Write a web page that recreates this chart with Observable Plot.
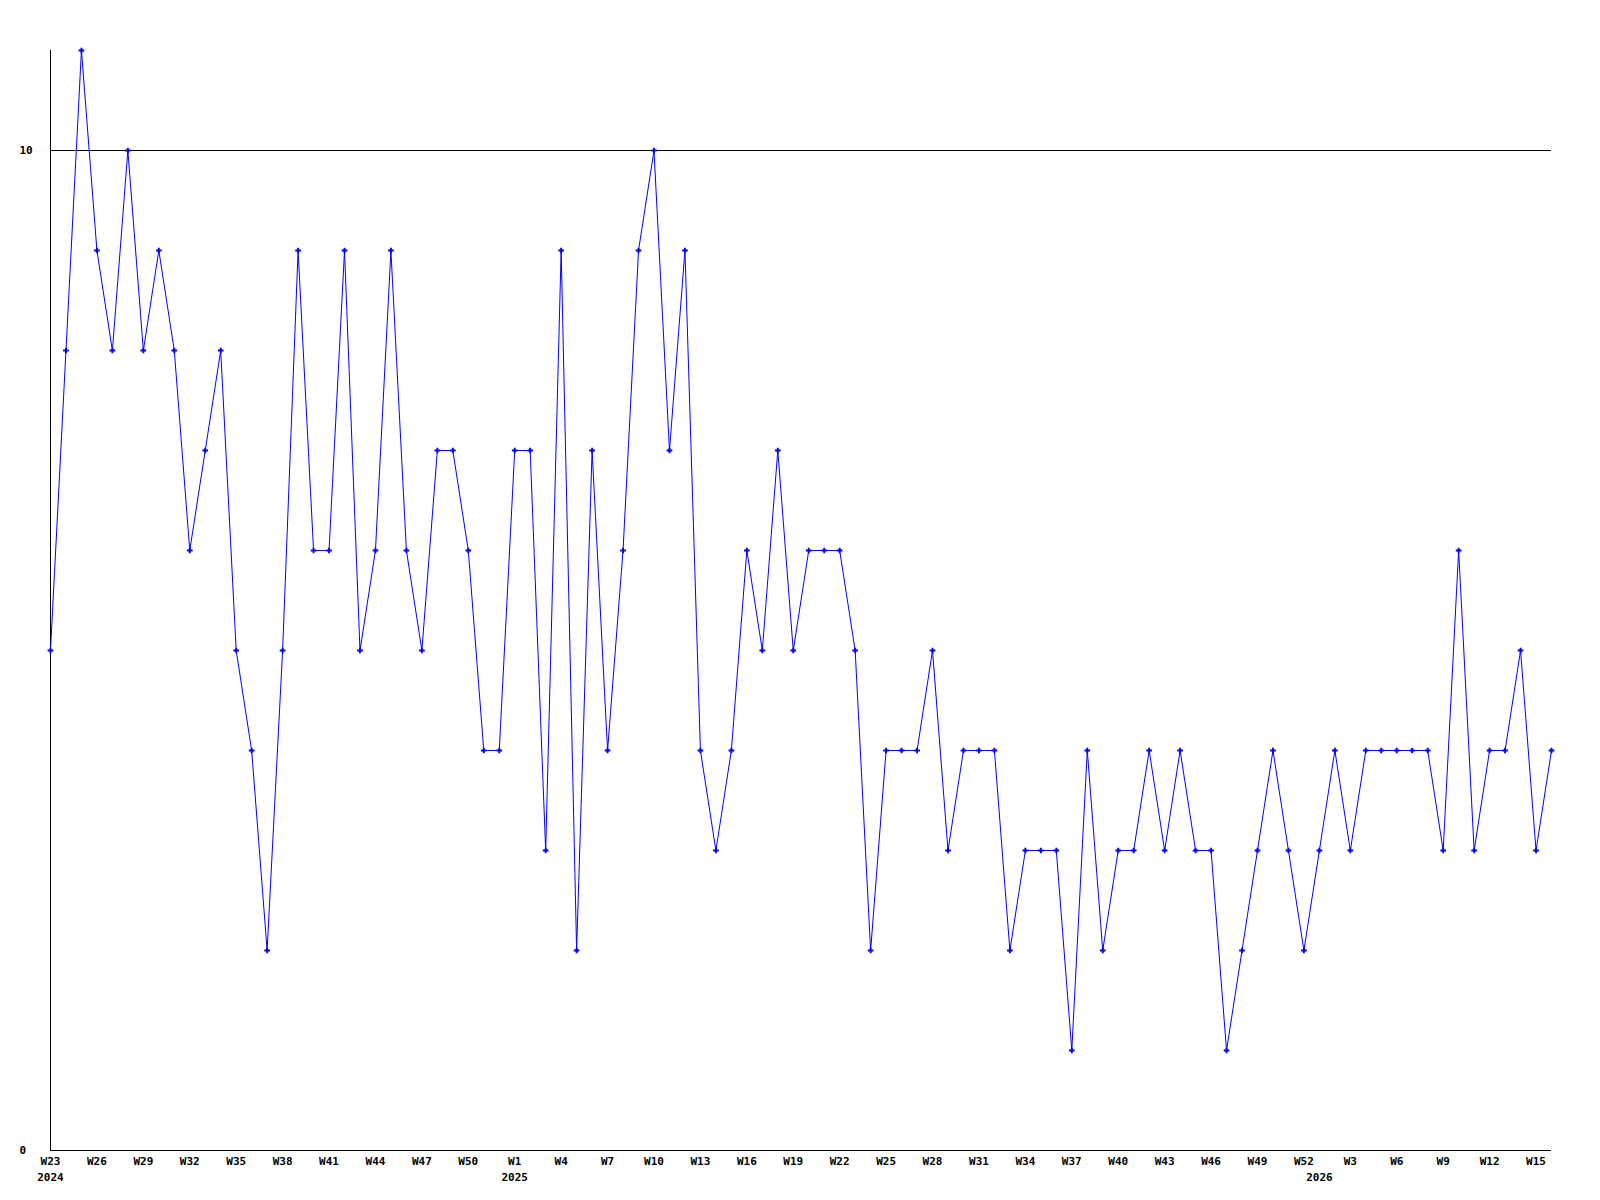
<!DOCTYPE html>
<html>
<head>
<meta charset="utf-8">
<script src="https://cdn.jsdelivr.net/npm/d3@7"></script>
<script src="https://cdn.jsdelivr.net/npm/@observablehq/plot@0.6"></script>
<style>
  html, body { margin: 0; padding: 0; background: #fff; }
</style>
</head>
<body>
<div id="chart"></div>
<script>
// Week labels, one per data point (ISO weeks W23 2024 .. W16 2026)
const weekLabels = [
  "W23","W24","W25","W26","W27","W28","W29","W30","W31","W32","W33","W34","W35","W36","W37",
  "W38","W39","W40","W41","W42","W43","W44","W45","W46","W47","W48","W49","W50","W51","W52",
  "W1","W2","W3","W4","W5","W6","W7","W8","W9","W10","W11","W12","W13","W14","W15","W16",
  "W17","W18","W19","W20","W21","W22","W23","W24","W25","W26","W27","W28","W29","W30","W31",
  "W32","W33","W34","W35","W36","W37","W38","W39","W40","W41","W42","W43","W44","W45","W46",
  "W47","W48","W49","W50","W51","W52",
  "W1","W2","W3","W4","W5","W6","W7","W8","W9","W10","W11","W12","W13","W14","W15","W16"
];

// Series values
const counts = [
  5,8,11,9,8,10,8,9,8,6,
  7,8,5,4,2,5,9,6,6,9,
  5,6,9,6,5,7,7,6,4,4,
  7,7,3,9,2,7,4,6,9,10,
  7,9,4,3,4,6,5,7,5,6,
  6,6,5,2,4,4,4,5,3,4,
  4,4,2,3,3,3,1,4,2,3,
  3,4,3,4,3,3,1,2,3,4,
  3,2,3,4,3,4,4,4,4,4,
  3,6,3,4,4,5,3,4
];

// Year labels and the week index where each year begins
const yearNames = ["2024", "2025", "2026"];
const yearStart = [0, 30, 82];

// Y tick labels
const yTicks = [0, 10];
const gridLines = [10];

const data = counts.map((v, i) => ({i, week: weekLabels[i], v}));
const xTicks = d3.range(0, weekLabels.length, 3);
const years = yearNames.map((y, k) => ({year: y, i: yearStart[k]}));

const font = "'DejaVu Sans Mono', 'Liberation Mono', monospace";

const chart = Plot.plot({
  width: 1600,
  height: 1200,
  marginTop: 50,
  marginRight: 49,
  marginBottom: 50,
  marginLeft: 50,
  style: {fontFamily: font, fontSize: "11px", fontWeight: "bold", background: "#fff", color: "#000"},
  x: {type: "linear", domain: [0, weekLabels.length - 1]},
  y: {type: "linear", domain: [0, 11], axis: null},
  marks: [
    Plot.ruleY(gridLines, {stroke: "#000", strokeWidth: 1}),
    Plot.ruleY([0], {stroke: "#000", strokeWidth: 1}),
    Plot.ruleX([0], {stroke: "#000", strokeWidth: 1}),
    Plot.axisX(xTicks, {
      tickSize: 0, tickPadding: 7,
      tickFormat: (i) => weekLabels[i],
      fill: "#000", label: null
    }),
    Plot.text(years, {
      x: "i", text: "year", frameAnchor: "bottom", dy: 27,
      fill: "#000", lineAnchor: "middle"
    }),
    Plot.text(yTicks, {
      y: (d) => d, text: (d) => String(d), frameAnchor: "left",
      dx: -31, textAnchor: "start", fill: "#000"
    }),
    Plot.line(data, {x: "i", y: "v", stroke: "#0000ff", strokeWidth: 1}),
    Plot.dot(data, {x: "i", y: "v", symbol: "cross", fill: "#0000ff", r: 2.4, stroke: "none"})
  ]
});

document.getElementById("chart").appendChild(chart);
</script>
</body>
</html>
